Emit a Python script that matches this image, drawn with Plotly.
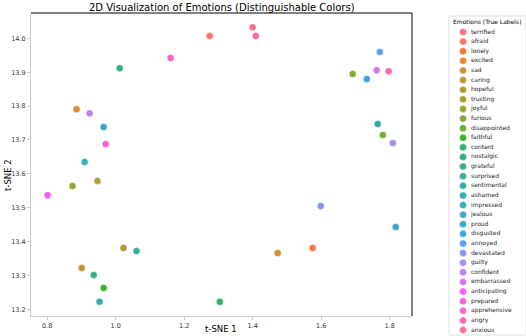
import math
import plotly.graph_objects as go

# ---------------- data ----------------
emotions = ["terrified", "afraid", "lonely", "excited", "sad", "caring", "hopeful",
            "trusting", "joyful", "furious", "disappointed", "faithful", "content",
            "nostalgic", "grateful", "surprised", "sentimental", "ashamed", "impressed",
            "jealous", "proud", "disgusted", "annoyed", "devastated", "guilty",
            "confident", "embarrassed", "anticipating", "prepared", "apprehensive",
            "angry", "anxious"]
tsne_x = [1.400, 1.2745, 1.575, 0.886, 1.473, 0.901, 0.947,
          1.023, 0.874, 1.692, 1.780, 0.965, 1.304,
          0.936, 1.012, 1.061, 1.765, 0.953, 0.9095,
          0.965, 1.8175, 1.733, 1.771, 1.5985, 1.809,
          0.924, 1.762, 0.8015, 0.971, 1.1606,
          1.797, 1.409]
tsne_y = [14.033, 14.007, 13.381, 13.791, 13.366, 13.322, 13.579,
          13.381, 13.564, 13.895, 13.715, 13.263, 13.222,
          13.301, 13.912, 13.372, 13.747, 13.222, 13.635,
          13.738, 13.443, 13.880, 13.960, 13.505, 13.691,
          13.779, 13.906, 13.537, 13.688, 13.942,
          13.903, 14.007]
x_ticks = [0.8, 1.0, 1.2, 1.4, 1.6, 1.8]
y_ticks = [13.2, 13.3, 13.4, 13.5, 13.6, 13.7, 13.8, 13.9, 14.0]

# ---------------- husl palette (seaborn style) ----------------
M = [[3.2406, -1.5372, -0.4986], [-0.9689, 1.8758, 0.0415], [0.0557, -0.2040, 1.0570]]
REF_U, REF_V, LAB_E, LAB_K = 0.19784, 0.46834, 0.008856, 903.3


def max_chroma(L, H):
    hrad = math.radians(H)
    sinH, cosH = math.sin(hrad), math.cos(hrad)
    sub1 = (L + 16) ** 3 / 1560896.0
    sub2 = sub1 if sub1 > LAB_E else L / LAB_K
    res = float("inf")
    for m1, m2, m3 in M:
        top = (0.99915 * m1 + 1.05122 * m2 + 1.14460 * m3) * sub2
        rb = 0.86330 * m3 - 0.17266 * m2
        lb = 0.12949 * m3 - 0.38848 * m1
        bottom = (rb * sinH + lb * cosH) * sub2
        for t in (0.0, 1.0):
            C = L * (top - 1.05122 * t) / (bottom + 0.17266 * sinH * t)
            if 0 < C < res:
                res = C
    return res


def husl_to_hex(H, S, L):
    C = max_chroma(L, H) / 100.0 * S
    hr = math.radians(H)
    U, V = math.cos(hr) * C, math.sin(hr) * C
    t = (L + 16) / 116.0
    varY = t ** 3 if t ** 3 > LAB_E else (116 * t - 16) / LAB_K
    varU = U / (13 * L) + REF_U
    varV = V / (13 * L) + REF_V
    Y = varY
    X = -(9 * Y * varU) / ((varU - 4) * varV - varU * varV)
    Z = (9 * Y - 15 * varV * Y - varV * X) / (3 * varV)
    out = []
    for row in M:
        c = row[0] * X + row[1] * Y + row[2] * Z
        c = 12.92 * c if c <= 0.0031308 else 1.055 * c ** (1 / 2.4) - 0.055
        c = min(max(c, 0.0), 1.0)
        out.append(int(round(c * 255)))
    return "#%02x%02x%02x" % tuple(out)


n = len(emotions)
colors = [husl_to_hex(((i / n) + 0.01) % 1 * 359, 0.9 * 99, 0.65 * 99) for i in range(n)]

FONT = "DejaVu Sans"
W, H = 526, 336
PL, PR, PT, PB = 31, 412, 13, 316   # plot area pixels

fig = go.Figure()
fig.add_trace(go.Scatter(
    x=tsne_x, y=tsne_y, mode="markers",
    marker=dict(color=colors, size=7, line=dict(color="white", width=0.4)),
    text=emotions, hoverinfo="text", showlegend=False,
    xaxis="x", yaxis="y"))

# legend drawn as its own small panel
idx = list(range(n))
fig.add_trace(go.Scatter(
    x=[14] * n, y=idx, mode="markers",
    marker=dict(color=colors, size=7, line=dict(color="white", width=0.4)),
    showlegend=False, hoverinfo="skip", xaxis="x2", yaxis="y2"))
fig.add_trace(go.Scatter(
    x=[22] * n, y=idx, mode="text", text=emotions, textposition="middle right",
    textfont=dict(family=FONT, size=6, color="#222"),
    showlegend=False, hoverinfo="skip", xaxis="x2", yaxis="y2"))

fig.update_layout(
    width=W, height=H, margin=dict(l=0, r=0, t=0, b=0),
    paper_bgcolor="white", plot_bgcolor="white",
    font=dict(family=FONT, color="#222"),
    xaxis=dict(domain=[PL / W, PR / W], range=[0.753, 1.865], tickvals=x_ticks,
               ticktext=["%.1f" % v for v in x_ticks], showgrid=False, zeroline=False,
               showline=True, linecolor="#cccccc", linewidth=1, ticks="outside",
               ticklen=3, tickcolor="#cccccc", tickfont=dict(size=6.5, color="#333")),
    yaxis=dict(domain=[1 - PB / H, 1 - PT / H], range=[13.180, 14.075], tickvals=y_ticks,
               ticktext=["%.1f" % v for v in y_ticks], showgrid=False, zeroline=False,
               showline=True, linecolor="#cccccc", linewidth=1, ticks="outside",
               ticklen=3, tickcolor="#cccccc", tickfont=dict(size=6.5, color="#333")),
    xaxis2=dict(domain=[449 / W, 1.0], range=[0, 77], visible=False, fixedrange=True),
    yaxis2=dict(domain=[0, 1], range=[(H - 32) / 9.613, -32 / 9.613], visible=False,
                fixedrange=True, anchor="x2"),
    shapes=[
        dict(type="line", xref="paper", yref="paper", x0=PL / W, x1=PR / W,
             y0=1 - PT / H, y1=1 - PT / H, line=dict(color="black", width=1)),
        dict(type="line", xref="paper", yref="paper", x0=PR / W, x1=PR / W,
             y0=1 - PT / H, y1=1 - PB / H, line=dict(color="black", width=1)),
        dict(type="rect", xref="paper", yref="paper", x0=449 / W, x1=1.0,
             y0=1 - 335 / H, y1=1 - 16 / H, line=dict(color="#dddddd", width=1)),
    ],
    annotations=[
        dict(text="2D Visualization of Emotions (Distinguishable Colors)", xref="paper",
             yref="paper", x=(PL + PR) / 2 / W, y=1 - 7 / H, showarrow=False,
             font=dict(size=10, color="black"), xanchor="center", yanchor="middle"),
        dict(text="t-SNE 1", xref="paper", yref="paper", x=221 / W, y=1 - 329 / H,
             showarrow=False, font=dict(size=8.5, color="black"),
             xanchor="center", yanchor="middle"),
        dict(text="t-SNE 2", xref="paper", yref="paper", x=8 / W, y=1 - 175 / H,
             showarrow=False, textangle=-90, font=dict(size=8.5, color="black"),
             xanchor="center", yanchor="middle"),
        dict(text="Emotions (True Labels)", xref="paper", yref="paper", x=487 / W,
             y=1 - 22 / H, showarrow=False, font=dict(size=6, color="black"),
             xanchor="center", yanchor="middle"),
    ],
)

fig.write_html("out.html",
               config={"displayModeBar": False},
               post_script="document.body.style.margin='0';"
                           "document.body.style.overflow='hidden';")
